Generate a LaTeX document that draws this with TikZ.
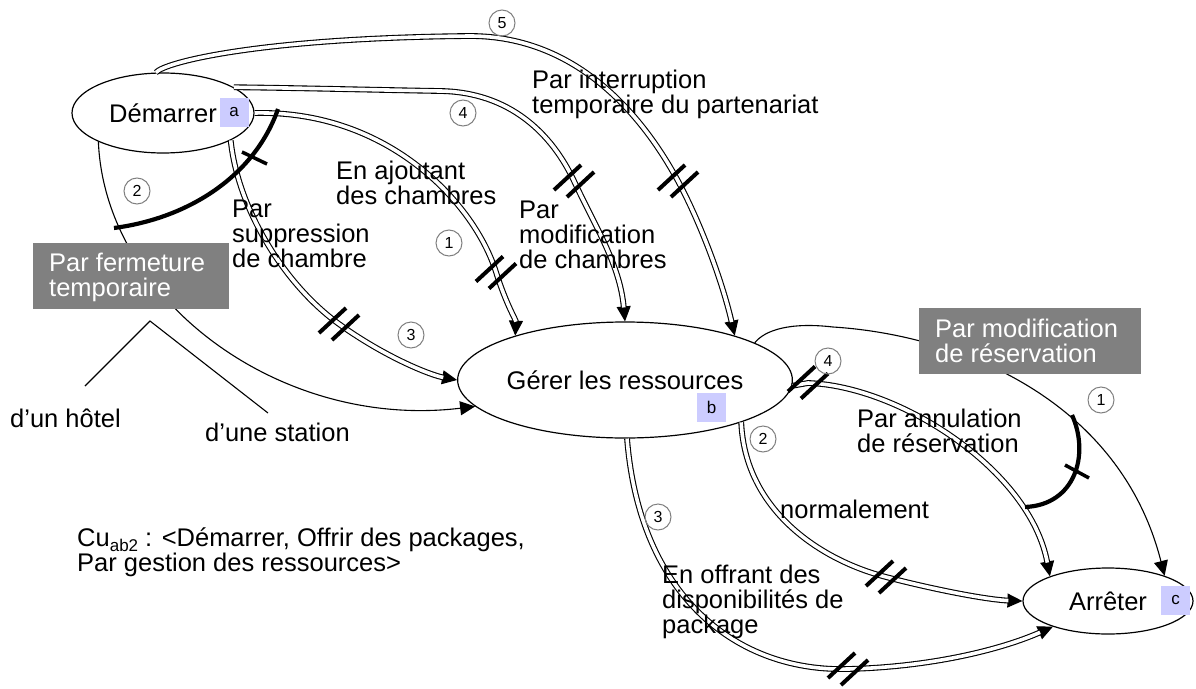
\documentclass[tikz,border=0pt]{standalone}
\usepackage{fontspec}
\setmainfont{Liberation Sans}
\usetikzlibrary{arrows.meta,shapes.geometric}
\definecolor{lav}{HTML}{CCCCFF}
\definecolor{boxgray}{HTML}{808080}
\definecolor{numgray}{HTML}{808080}
\newcommand\dblconn[1]{\draw[sgl,arrowtip] #1; \draw[dbl,shorten >=14pt] #1;}
\begin{document}
\begin{tikzpicture}[x=1pt,y=-1pt,
  mainfont/.style={font=\fontsize{25.5}{25}\selectfont},
  st/.style={draw, ellipse, line width=1.2pt, inner sep=0pt, mainfont, text height=18pt, text depth=0pt},
  lbl/.style={mainfont, inner sep=0pt, anchor=base west, align=left},
  tag/.style={fill=lav, minimum width=29pt, minimum height=29pt, inner sep=0pt, font=\fontsize{17}{17}\selectfont},
  num/.style={draw=numgray, circle, line width=1pt, minimum size=26pt, inner sep=0pt, font=\fontsize{16}{16}\selectfont},
  gbox/.style={fill=boxgray, inner sep=0pt, anchor=north west},
  sgl/.style={line width=1.1pt},
  dbl/.style={double=white, double distance=3.6pt, line width=1.1pt},
  arrowtip/.style={-{Triangle[length=15pt,width=14pt]}},
  sel/.style={line width=4.2pt},
  hashpic/.pic={\draw[line width=4pt] (-20,9) -- (7,-16); \draw[line width=4pt] (-7,16) -- (20,-9);}
]
\useasboundingbox (0,0) rectangle (1196,688);

% states
\node[st, minimum width=182pt, minimum height=80pt] (dem) at (163,113) {Démarrer};
\node[st, minimum width=300pt, minimum height=116pt] (ger) at (625,380) {Gérer les ressources};
\node[st, minimum width=170pt, minimum height=66pt] (arr) at (1108,601) {Arrêter};

% connectors Demarrer -> Gerer
\dblconn{(dem.100) .. controls (165,62) and (260,38) .. (470,36) .. controls (580,36) and (645,120) .. (678,181) .. controls (700,222) and (722,280) .. (ger.22)}
\dblconn{(dem.20) .. controls (300,88) and (380,90) .. (440,91) .. controls (510,92) and (552,134) .. (574,181) .. controls (596,228) and (620,265) .. (ger.90)}
\dblconn{(dem.east) .. controls (390,110) and (475,205) .. (496,272) .. controls (506,304) and (516,320) .. (ger.158)}
\dblconn{(dem.-22) .. controls (238,210) and (285,285) .. (339,324) .. controls (385,357) and (430,375) .. (ger.west)}
\draw[sgl,arrowtip] (dem.204) .. controls (105,300) and (280,430) .. (ger.190);

% connectors Gerer -> Arreter
\dblconn{(ger.-2) -- (808,383) .. controls (900,386) and (1030,470) .. (arr.157)}
\dblconn{(ger.-20) .. controls (745,510) and (820,560) .. (886,577) .. controls (940,591) and (990,600) .. (arr.west)}
\dblconn{(ger.-88) .. controls (640,600) and (740,672) .. (848,669) .. controls (930,667) and (1000,650) .. (arr.205)}
\draw[sgl,arrowtip] (ger.16) .. controls (765,330) and (790,322) .. (833,327) .. controls (960,335) and (1120,400) .. (arr.24);

% hash marks
\pic at (678,181) {hashpic};
\pic at (574,181) {hashpic};
\pic at (496,272.5) {hashpic};
\pic at (339,324) {hashpic};
\pic at (808,382.5) {hashpic};
\pic at (886,577) {hashpic};
\pic at (848,669) {hashpic};

% selection arcs
\draw[sel] (114,228) .. controls (190,218) and (255,175) .. (278,109);
\draw[line width=3.5pt] (242,152) -- (267,164);
\draw[sel] (1072,415) .. controls (1090,455) and (1075,505) .. (1025,507);
\draw[line width=3.5pt] (1065,465) -- (1089,478);

% tags
\node[tag] (ta) at (234,112.5) {a};
\node[tag] (tb) at (711.5,407.5) {b};
\node[tag] (tc) at (1175.5,600) {c};

% gray boxes
\node[gbox, minimum width=196pt, minimum height=66pt] (pft) at (33,243) {};
\node[lbl, text=white] (pftt) at (49,296) {Par fermeture\\temporaire};
\node[gbox, minimum width=222pt, minimum height=66pt] (pmr) at (919,308) {};
\node[lbl, text=white] (pmrt) at (935,362) {Par modification\\de réservation};

\coordinate (fork) at (150,321);
\coordinate (fh) at (85,386);
\coordinate (fs) at (268,413);
\draw[sgl] (fh) -- (fork) -- (fs);

% numbers
\node[num] (n5) at (502,23) {5};
\node[num] (n4a) at (463,113) {4};
\node[num] (n1a) at (449,243) {1};
\node[num] (n3a) at (411,335) {3};
\node[num] (n2a) at (137,191) {2};
\node[num] (n4b) at (828,361) {4};
\node[num] (n2b) at (763,439) {2};
\node[num] (n1b) at (1101,400) {1};
\node[num] (n3b) at (658,517) {3};

% labels
\node[lbl] (l1) at (336,204) {En ajoutant\\des chambres};
\node[lbl] (l2) at (232,267) {Par\\suppression\\de chambre};
\node[lbl] (l3) at (519,268) {Par\\modification\\de chambres};
\node[lbl] (l4) at (532,113) {Par interruption\\temporaire du partenariat};
\node[lbl] (l5) at (857,452) {Par annulation\\de réservation};
\node[lbl] (l6) at (780,518) {normalement};
\node[lbl] (l7) at (662,633) {En offrant des\\disponibilités de\\package};
\node[lbl] (l8) at (10,427) {d’un hôtel};
\node[lbl] (l9) at (205,441) {d’une station};
\node[lbl] (l10) at (77,571) {Cu\raisebox{-5pt}{\fontsize{17}{17}\selectfont ab2} : <Démarrer, Offrir des packages,\\Par gestion des ressources>};
\end{tikzpicture}
\end{document}
